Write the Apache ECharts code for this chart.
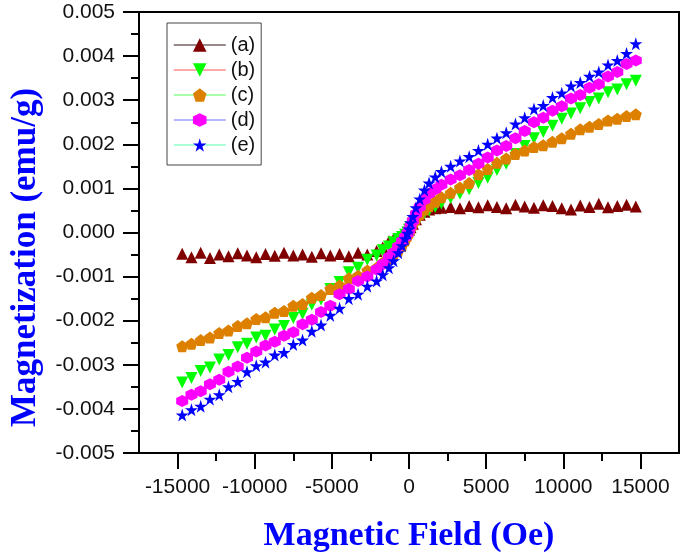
<!DOCTYPE html>
<html>
<head>
<meta charset="utf-8">
<script src="https://cdn.jsdelivr.net/npm/echarts@6/dist/echarts.min.js"></script>
<style>
html,body{margin:0;padding:0;background:#fff;}
#chart{width:685px;height:559px;}
</style>
</head>
<body>
<div id="chart"></div>
<script>
// Magnetic field values (Oe), shared by all samples
const fieldOe = [
  -14700, -14100, -13500, -12900, -12300, -11700, -11100, -10500, -9900, -9300, -8700,
  -8100, -7500, -6900, -6300, -5700, -5100, -4500, -3900, -3300, -2700, -2100,
  -1700, -1300, -1000, -700, -450, -250, -100, 0, 100, 250, 450, 700, 1000, 1300, 1700,
  2100, 2700, 3300, 3900, 4500, 5100, 5700, 6300, 6900, 7500, 8100,
  8700, 9300, 9900, 10500, 11100, 11700, 12300, 12900, 13500, 14100, 14700
];
// Magnetization (emu/g) for each sample
const magA = [
  -0.00048, -0.00056, -0.00046, -0.00058, -0.00050, -0.00054, -0.00047, -0.00052, -0.00056, -0.00049, -0.00053,
  -0.00046, -0.00052, -0.00050, -0.00055, -0.00047, -0.00052, -0.00049, -0.00054, -0.00046, -0.00050, -0.00042,
  -0.00034, -0.00020, -0.00015, -0.00010, -0.00006, -0.00002, 0.00002, 0.00006, 0.00012, 0.00020, 0.00030, 0.00040, 0.00047, 0.00052, 0.00055,
  0.00056, 0.00058, 0.00055, 0.00060, 0.00057, 0.00062, 0.00058, 0.00055, 0.00063, 0.00059, 0.00056,
  0.00062, 0.00060, 0.00055, 0.00052, 0.00061, 0.00058, 0.00065, 0.00057, 0.00060, 0.00063, 0.00059
];
const magB = [
  -0.00340, -0.00330, -0.00314, -0.00306, -0.00288, -0.00278, -0.00260, -0.00252, -0.00238, -0.00234, -0.00220,
  -0.00212, -0.00194, -0.00184, -0.00164, -0.00152, -0.00128, -0.00112, -0.00090, -0.00080, -0.00062, -0.00052,
  -0.00040, -0.00032, -0.00022, -0.00015, -0.00010, -0.00005, 0.00000, 0.00006, 0.00012, 0.00020, 0.00027, 0.00035, 0.00044, 0.00050, 0.00058,
  0.00066, 0.00078, 0.00088, 0.00098, 0.00112, 0.00124, 0.00142, 0.00156, 0.00178, 0.00196, 0.00214,
  0.00228, 0.00242, 0.00258, 0.00270, 0.00282, 0.00296, 0.00304, 0.00318, 0.00324, 0.00336, 0.00344
];
const magC = [
  -0.00258, -0.00252, -0.00244, -0.00238, -0.00228, -0.00222, -0.00212, -0.00206, -0.00196, -0.00192, -0.00182,
  -0.00178, -0.00166, -0.00162, -0.00148, -0.00142, -0.00128, -0.00120, -0.00104, -0.00098, -0.00086, -0.00080,
  -0.00068, -0.00060, -0.00050, -0.00042, -0.00030, -0.00018, -0.00008, 0.00000, 0.00008, 0.00018, 0.00030, 0.00042, 0.00052, 0.00060, 0.00070,
  0.00080, 0.00090, 0.00102, 0.00112, 0.00132, 0.00144, 0.00158, 0.00168, 0.00178, 0.00186, 0.00194,
  0.00198, 0.00206, 0.00214, 0.00224, 0.00234, 0.00240, 0.00246, 0.00254, 0.00258, 0.00264, 0.00268
];
const magD = [
  -0.00382, -0.00368, -0.00360, -0.00344, -0.00334, -0.00316, -0.00304, -0.00284, -0.00270, -0.00256, -0.00248,
  -0.00234, -0.00226, -0.00208, -0.00198, -0.00180, -0.00166, -0.00140, -0.00128, -0.00110, -0.00100, -0.00084,
  -0.00072, -0.00056, -0.00046, -0.00032, -0.00020, -0.00010, -0.00002, 0.00005, 0.00014, 0.00026, 0.00042, 0.00058, 0.00074, 0.00088, 0.00098,
  0.00108, 0.00120, 0.00130, 0.00142, 0.00156, 0.00170, 0.00186, 0.00196, 0.00214, 0.00230, 0.00250,
  0.00260, 0.00276, 0.00286, 0.00304, 0.00312, 0.00328, 0.00336, 0.00354, 0.00364, 0.00382, 0.00390
];
const magE = [
  -0.00414, -0.00402, -0.00394, -0.00378, -0.00368, -0.00350, -0.00338, -0.00316, -0.00302, -0.00294, -0.00278,
  -0.00272, -0.00254, -0.00244, -0.00224, -0.00210, -0.00188, -0.00172, -0.00150, -0.00140, -0.00122, -0.00110,
  -0.00096, -0.00080, -0.00064, -0.00046, -0.00030, -0.00014, -0.00002, 0.00008, 0.00022, 0.00036, 0.00056, 0.00076, 0.00096, 0.00112, 0.00126,
  0.00138, 0.00150, 0.00162, 0.00172, 0.00186, 0.00200, 0.00214, 0.00226, 0.00246, 0.00260, 0.00280,
  0.00288, 0.00306, 0.00316, 0.00332, 0.00340, 0.00354, 0.00364, 0.00380, 0.00390, 0.00406, 0.00428
];
const seriesNames = ['(a)', '(b)', '(c)', '(d)', '(e)'];
const xMajorTicks = [-15000, -10000, -5000, 0, 5000, 10000, 15000];
const xMinorTicks = [-12500, -7500, -2500, 2500, 7500, 12500];

const markerColors = ['#800000', '#00ff00', '#dd8000', '#ff00ff', '#0000ff'];
const legendLineColors = ['#7a6262', '#ff8c8c', '#8cff8c', '#9c9cff', '#8cffc8'];
const symbols = [
  'triangle',
  'triangle',
  'path://M50,0 L97.6,34.5 L79.4,90.5 L20.6,90.5 L2.4,34.5 Z',
  'path://M50,0 L93.3,25 L93.3,75 L50,100 L6.7,75 L6.7,25 Z',
  'path://M50,0 L61.2,34.5 L97.6,34.5 L68.2,55.9 L79.4,90.5 L50,69.1 L20.6,90.5 L31.8,55.9 L2.4,34.5 L38.8,34.5 Z'
];
const rotations = [0, 180, 0, 0, 0];
const sizes = [12, 12, 12, 12, 13];
const mags = [magA, magB, magC, magD, magE];

const chart = echarts.init(document.getElementById('chart'), null, {renderer: 'canvas'});
const sansFont = '"Liberation Sans", Arial, sans-serif';
const serifFont = '"Liberation Serif", "Times New Roman", serif';

const series = seriesNames.map((name, i) => ({
  name: name,
  type: 'line',
  xAxisIndex: 0,
  yAxisIndex: 0,
  data: fieldOe.map((x, k) => [x, mags[i][k]]),
  symbol: symbols[i],
  symbolRotate: rotations[i],
  symbolSize: sizes[i],
  showSymbol: true,
  showAllSymbol: true,
  itemStyle: {color: markerColors[i], borderWidth: 0},
  lineStyle: {width: 0, opacity: 0},
  emphasis: {disabled: true},
  silent: true,
  z: 2 + i
}));

chart.setOption({
  animation: false,
  backgroundColor: '#ffffff',
  grid: {
    left: 135, right: 6, top: 12, bottom: 106,
    show: true, borderColor: '#000', borderWidth: 2, backgroundColor: 'transparent'
  },
  legend: {
    orient: 'vertical',
    left: 167,
    top: 23,
    itemWidth: 52,
    itemHeight: 17,
    itemGap: 5,
    padding: [12, 6, 10, 6],
    borderColor: '#444',
    borderWidth: 1,
    backgroundColor: '#fff',
    textStyle: {fontSize: 20, fontFamily: sansFont, color: '#111'},
    data: seriesNames.map((n, i) => ({
      name: n,
      lineStyle: {color: legendLineColors[i], width: 1.5, opacity: 1},
      itemStyle: {color: markerColors[i], opacity: 1}
    }))
  },
  xAxis: [{
    type: 'value',
    min: -17500,
    max: 17500,
    position: 'bottom',
    splitLine: {show: false},
    axisLine: {show: true, onZero: false, lineStyle: {color: '#000', width: 2}},
    axisTick: {show: true, customValues: xMajorTicks, length: 16, lineStyle: {color: '#000', width: 2}},
    axisLabel: {customValues: xMajorTicks, margin: 24, fontSize: 21, fontFamily: sansFont, color: '#111',
      formatter: v => String(v)},
    name: 'Magnetic Field (Oe)',
    nameLocation: 'middle',
    nameGap: 66,
    nameTextStyle: {fontSize: 34, fontWeight: 'bold', fontFamily: serifFont, color: '#0000ff'}
  }, {
    type: 'value',
    min: -17500,
    max: 17500,
    position: 'bottom',
    splitLine: {show: false},
    axisLine: {show: false, onZero: false},
    axisTick: {show: true, customValues: xMinorTicks, length: 8, lineStyle: {color: '#000', width: 2}},
    axisLabel: {show: false}
  }],
  yAxis: {
    type: 'value',
    min: -0.005,
    max: 0.005,
    interval: 0.001,
    splitLine: {show: false},
    axisLine: {show: true, onZero: false, lineStyle: {color: '#000', width: 2}},
    axisTick: {show: true, length: 16, lineStyle: {color: '#000', width: 2}},
    minorTick: {show: true, splitNumber: 2, length: 8, lineStyle: {color: '#000', width: 2}},
    axisLabel: {
      margin: 24, fontSize: 21, fontFamily: sansFont, color: '#111',
      formatter: v => v.toFixed(3)
    },
    name: 'Magnetization (emu/g)',
    nameLocation: 'middle',
    nameRotate: 90,
    nameGap: 96,
    nameTextStyle: {fontSize: 35, fontWeight: 'bold', fontFamily: serifFont, color: '#0000ff', padding: [0, 50, 0, 0]}
  },
  series: series
});
</script>
</body>
</html>
